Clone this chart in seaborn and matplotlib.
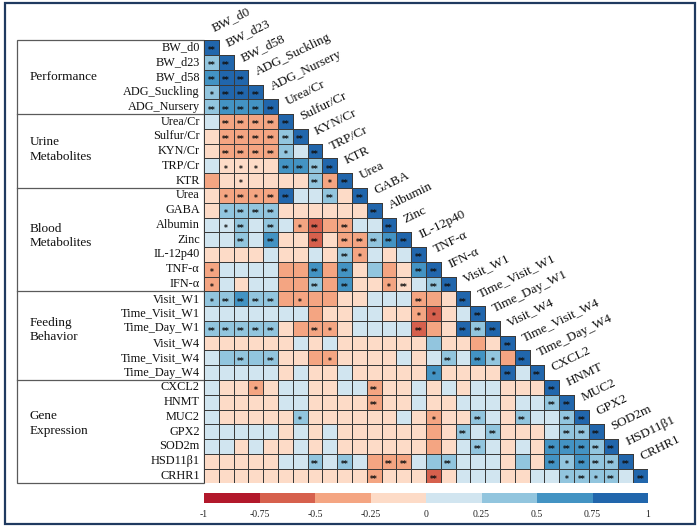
import numpy as np
import pandas as pd
import matplotlib
matplotlib.use("Agg")
import matplotlib.pyplot as plt
import seaborn as sns
from matplotlib.colors import ListedColormap, Normalize, to_rgba
from matplotlib.cm import ScalarMappable
from matplotlib.patches import Rectangle

# ---------------- data ----------------
variables = ["BW_d0", "BW_d23", "BW_d58", "ADG_Suckling", "ADG_Nursery",
             "Urea/Cr", "Sulfur/Cr", "KYN/Cr", "TRP/Cr", "KTR",
             "Urea", "GABA", "Albumin", "Zinc", "IL-12p40", "TNF-α", "IFN-α",
             "Visit_W1", "Time_Visit_W1", "Time_Day_W1", "Visit_W4", "Time_Visit_W4", "Time_Day_W4",
             "CXCL2", "HNMT", "MUC2", "GPX2", "SOD2m", "HSD11β1", "CRHR1"]
groups = ["Performance", "Urine\nMetabolites", "Blood\nMetabolites", "Feeding\nBehavior", "Gene\nExpression"]
group_sizes = [5, 5, 7, 6, 7]

# lower triangle correlations (row i, columns 0..i-1)
corr_lower = [
    [],
    [0.38],
    [0.62, 0.85],
    [0.38, 0.85, 0.85],
    [0.38, 0.62, 0.62, 0.62],
    [0.12, -0.38, -0.38, -0.38, -0.38],
    [-0.12, -0.38, -0.38, -0.38, -0.38, 0.38],
    [-0.12, -0.38, -0.38, -0.38, -0.38, 0.38, 0.12],
    [0.12, -0.12, -0.12, -0.12, -0.12, 0.62, 0.62, 0.38],
    [-0.38, -0.12, -0.12, -0.12, -0.12, -0.12, -0.12, 0.38, -0.38],
    [-0.12, -0.38, -0.38, -0.38, -0.38, 0.85, 0.12, 0.12, 0.38, -0.12],
    [-0.12, 0.38, 0.38, 0.38, 0.38, -0.12, -0.12, -0.12, -0.12, -0.12, -0.12],
    [0.12, 0.12, 0.38, 0.12, 0.38, 0.12, -0.38, -0.62, -0.38, -0.38, 0.12, 0.12],
    [0.12, 0.12, 0.38, 0.12, 0.62, -0.12, -0.12, -0.62, -0.12, -0.38, -0.38, 0.38, 0.62],
    [-0.12, -0.12, -0.12, -0.12, 0.12, -0.12, -0.12, 0.12, -0.12, 0.38, -0.38, 0.12, -0.12, 0.12],
    [-0.38, 0.12, 0.12, 0.12, 0.12, -0.38, -0.38, 0.62, -0.38, 0.62, -0.12, 0.38, -0.38, -0.12, 0.62],
    [-0.38, 0.12, -0.12, 0.12, 0.12, -0.38, -0.38, 0.38, -0.38, 0.62, -0.12, -0.12, -0.38, -0.12, 0.12, 0.38],
    [0.38, 0.38, 0.62, 0.38, 0.38, -0.38, -0.38, -0.38, -0.38, -0.12, -0.12, 0.12, 0.12, 0.12, -0.38, -0.38, -0.12],
    [0.12, 0.12, 0.12, 0.12, 0.12, 0.12, 0.12, -0.38, -0.12, -0.12, 0.12, 0.12, -0.12, -0.12, -0.38, -0.62, -0.12, 0.12],
    [0.38, 0.38, 0.38, 0.38, 0.38, -0.12, -0.38, -0.38, -0.38, -0.12, 0.12, 0.12, 0.12, 0.12, -0.62, -0.38, -0.12, 0.85, 0.38],
    [-0.12, -0.12, -0.12, -0.12, -0.12, -0.12, 0.12, -0.12, 0.12, -0.12, -0.12, -0.12, -0.12, -0.12, -0.12, 0.38, -0.12, -0.12, -0.38, -0.12],
    [0.12, 0.38, 0.38, 0.38, 0.38, -0.12, -0.12, -0.38, -0.38, -0.12, -0.12, -0.12, -0.12, 0.12, -0.12, 0.12, 0.38, 0.12, 0.62, 0.38, -0.38],
    [0.12, 0.12, 0.12, 0.12, 0.12, -0.12, 0.12, -0.12, -0.12, 0.12, -0.12, -0.12, -0.12, -0.12, -0.12, 0.62, -0.12, -0.12, -0.12, -0.12, 0.85, 0.12],
    [0.12, -0.12, -0.12, -0.38, -0.12, 0.12, 0.12, -0.12, -0.12, 0.12, 0.12, -0.38, -0.12, -0.12, 0.12, -0.12, 0.12, -0.12, 0.12, 0.12, -0.12, -0.12, -0.12],
    [0.12, -0.12, -0.12, -0.12, -0.12, 0.12, 0.12, -0.12, -0.12, -0.12, -0.12, -0.38, -0.12, -0.12, 0.12, -0.12, -0.12, 0.12, 0.12, 0.12, -0.12, 0.12, 0.12, 0.38],
    [0.12, -0.12, -0.12, -0.12, -0.12, -0.12, 0.38, -0.12, -0.12, -0.12, -0.12, -0.12, -0.12, 0.12, -0.12, -0.38, -0.12, -0.12, 0.38, 0.12, -0.12, 0.38, 0.12, 0.12, 0.38],
    [0.12, 0.12, 0.12, 0.12, 0.12, -0.12, 0.12, -0.12, 0.12, -0.12, -0.12, -0.12, -0.12, -0.12, -0.12, -0.38, -0.12, 0.38, 0.12, 0.38, -0.12, -0.12, -0.12, 0.12, 0.38, 0.38],
    [0.12, 0.12, -0.12, 0.12, -0.12, -0.12, 0.12, -0.12, 0.12, -0.12, -0.12, -0.12, -0.12, -0.12, -0.12, -0.38, -0.12, 0.12, 0.38, 0.12, -0.12, 0.12, -0.12, 0.62, 0.62, 0.62, 0.38],
    [-0.12, -0.12, -0.12, -0.12, -0.12, 0.12, 0.12, 0.38, 0.12, 0.38, 0.12, -0.38, -0.38, -0.38, 0.12, 0.38, 0.38, 0.12, 0.12, 0.12, -0.12, 0.38, -0.12, 0.62, 0.38, 0.62, 0.38, 0.38],
    [-0.12, -0.12, -0.12, -0.12, -0.12, -0.12, -0.12, -0.12, -0.12, -0.12, -0.12, -0.38, -0.12, -0.12, -0.12, -0.62, -0.12, 0.12, 0.12, 0.12, -0.12, -0.12, 0.12, 0.12, 0.38, 0.38, 0.38, 0.38, 0.12],
]

# significance level per lower-triangle cell: 0 none, 1 = *, 2 = **
sig_lower = [
    "",
    "2",
    "22",
    "122",
    "2222",
    "02222",
    "022222",
    "0222210",
    "01110222",
    "001000021",
    "0121220020",
    "01222000000",
    "012020120200",
    "0020200202222",
    "00000000021000",
    "100000020200002",
    "1000000202001202",
    "12222010000000200",
    "000000000000001100",
    "2222200210000020022",
    "00000000000000000000",
    "002020001000000020210",
    "0000000000000001000020",
    "00010000000200000000000",
    "000000000002000000000002",
    "0000001000000001002002002",
    "00000000000000000202000022",
    "000000000000000000200002222",
    "0000000202002200200000021222",
    "00000000000200020000000012120",
]

cbar_ticks = [-1, -0.75, -0.5, -0.25, 0, 0.25, 0.5, 0.75, 1]
cbar_ticklabels = ["-1", "-0.75", "-0.5", "-0.25", "0", "0.25", "0.5", "0.75", "1"]

# ---------------- build matrix ----------------
n = len(variables)
M = np.full((n, n), np.nan)
annot = np.full((n, n), "", dtype=object)
for i in range(n):
    assert len(corr_lower[i]) == i, i
    assert len(sig_lower[i]) == i, i
    for j, v in enumerate(corr_lower[i]):
        M[i, j] = v
        annot[i, j] = "*" * int(sig_lower[i][j])
    M[i, i] = 1.0
    annot[i, i] = "**"
mask = np.triu(np.ones((n, n), dtype=bool), k=1)
df = pd.DataFrame(M, index=variables, columns=variables)

colors = ["#b2182b", "#d6604d", "#f4a582", "#fddbc7",
          "#d1e5f0", "#92c5de", "#4393c3", "#2166ac"]
cmap = ListedColormap(colors)

# ---------------- layout ----------------
W, H = 700, 530
X0, X1 = 204.0, 648.0
Y0, Y1 = 40.3, 483.4
rowh = (Y1 - Y0) / n
SERIF = ["Liberation Serif", "DejaVu Serif"]
GRID = "#3a3a3a"

fig = plt.figure(figsize=(7, 5.3), dpi=100)

# background axes in pixel coordinates
bg = fig.add_axes([0, 0, 1, 1])
bg.set_xlim(0, W)
bg.set_ylim(H, 0)
bg.axis("off")

# outer frame
bg.add_patch(Rectangle((4.5, 2.5), 690.5, 521, fill=False, edgecolor="#1f3a60", lw=1.6))

# left table
tbl_left = 17
bg.add_patch(Rectangle((tbl_left, Y0), X0 - tbl_left, Y1 - Y0, fill=False,
                       edgecolor="#5a5a5a", lw=0.9))
edge = 0
group_text_y = [77.2, 149.5, 236.0, 330.0, 423.5]
for g, size, ty in zip(groups, group_sizes, group_text_y):
    edge += size
    if edge < n:
        yy = Y0 + edge * rowh
        bg.plot([tbl_left, X0], [yy, yy], color="#5a5a5a", lw=0.9)
    bg.text(30, ty, g, ha="left", va="center", fontsize=9.5, family=SERIF,
            linespacing=1.25, color="#111111")

# heatmap
ax = fig.add_axes([X0 / W, 1 - Y1 / H, (X1 - X0) / W, (Y1 - Y0) / H])
sns.heatmap(df, mask=mask, cmap=cmap, vmin=-1, vmax=1, cbar=False,
            linewidths=0.7, linecolor=GRID, ax=ax,
            xticklabels=False, yticklabels=True)
# hide the borders of the masked (upper) cells
mesh = ax.collections[0]
ec = np.tile(np.array(to_rgba(GRID)), (n * n, 1))
ec[mask.ravel()] = (0, 0, 0, 0)
mesh.set_edgecolor(ec)

ax.set_yticklabels(variables, rotation=0, fontsize=8.8, family=SERIF, color="#111111")
ax.tick_params(axis="y", length=0, pad=3)
ax.tick_params(axis="x", length=0)
ax.set_xlabel("")
ax.set_ylabel("")

# significance stars
for i in range(n):
    for j in range(i + 1):
        if annot[i, j]:
            ax.text(j + 0.5, i + 0.72, annot[i, j], ha="center", va="center",
                    fontsize=5.5, fontweight="bold", family="DejaVu Sans", color="#111111")

# diagonal labels
for i, name in enumerate(variables):
    ax.text(i + 0.64, i - 0.6, name, rotation=26, rotation_mode="anchor",
            ha="left", va="baseline", fontsize=9.5, family=SERIF,
            color="#111111", clip_on=False)

# colorbar
cax = fig.add_axes([X0 / W, 1 - 503 / H, (X1 - X0) / W, 10 / H])
sm = ScalarMappable(norm=Normalize(-1, 1), cmap=cmap)
cb = fig.colorbar(sm, cax=cax, orientation="horizontal")
cb.set_ticks(cbar_ticks)
cb.set_ticklabels(cbar_ticklabels)
cb.outline.set_visible(False)
cax.tick_params(axis="x", length=0, pad=5, labelsize=7)
for t in cax.get_xticklabels():
    t.set_family(SERIF)
    t.set_color("#222222")

fig.savefig("out.png", dpi=100)
